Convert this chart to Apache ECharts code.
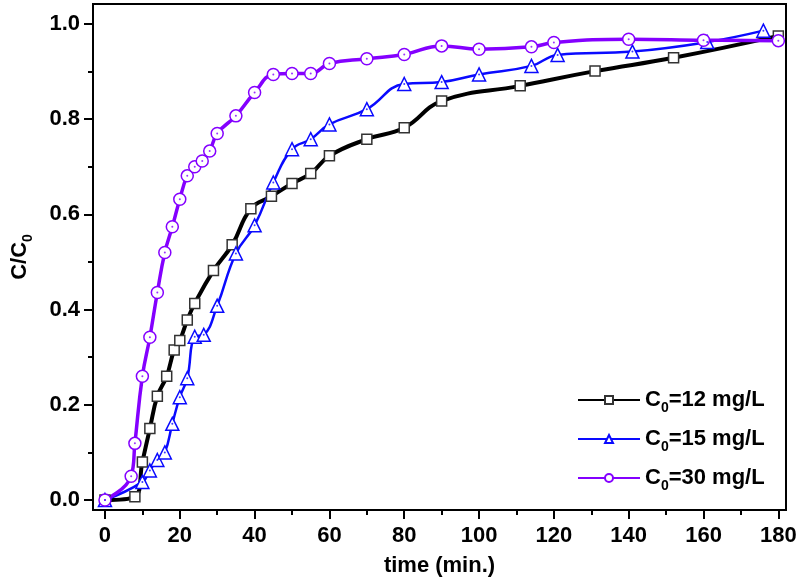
<!DOCTYPE html>
<html>
<head>
<meta charset="utf-8">
<script src="https://cdn.jsdelivr.net/npm/echarts@6/dist/echarts.min.js"></script>
<style>
  html, body { margin: 0; padding: 0; background: #fff; }
  #chart { width: 800px; height: 583px; }
</style>
</head>
<body>
<div id="chart"></div>
<script>
// C0 = 12 mg/L
const time12 = [0, 8, 10, 12, 14, 16.5, 18.5, 20, 22, 24, 29, 34, 39, 44.5, 50, 55, 60, 70, 80, 90, 111, 131, 152, 180]
const ratio12 = [0, 0.007, 0.08, 0.15, 0.218, 0.26, 0.315, 0.335, 0.378, 0.413, 0.482, 0.536, 0.612, 0.638, 0.665, 0.686, 0.723, 0.758, 0.782, 0.838, 0.870, 0.901, 0.929, 0.975]
// C0 = 15 mg/L
const time15 = [0, 10, 12, 14, 16, 18, 20, 22, 24, 26.4, 30, 35, 40, 45, 50, 55, 60, 70, 80, 90, 100, 114, 121, 141, 161, 176]
const ratio15 = [0, 0.038, 0.062, 0.084, 0.10, 0.16, 0.216, 0.256, 0.343, 0.347, 0.408, 0.518, 0.577, 0.667, 0.737, 0.758, 0.789, 0.821, 0.874, 0.878, 0.894, 0.912, 0.935, 0.942, 0.962, 0.986]
// C0 = 30 mg/L
const time30 = [0, 7, 8, 10, 12, 14, 16, 18, 20, 22, 24, 26, 28, 30, 35, 40, 45, 50, 55, 60, 70, 80, 90, 100, 114, 120, 140, 160, 180]
const ratio30 = [0, 0.05, 0.119, 0.26, 0.342, 0.436, 0.52, 0.574, 0.632, 0.681, 0.70, 0.712, 0.733, 0.77, 0.807, 0.856, 0.894, 0.896, 0.896, 0.917, 0.927, 0.936, 0.954, 0.947, 0.952, 0.961, 0.968, 0.966, 0.965]

const xMajor = [0, 20, 40, 60, 80, 100, 120, 140, 160, 180]
const xMinor = [10, 30, 50, 70, 90, 110, 130, 150, 170]
const yMajor = [0, 0.2, 0.4, 0.6, 0.8, 1.0]
const yMinor = [0.1, 0.3, 0.5, 0.7, 0.9]

const seriesNames = ['C0=12 mg/L', 'C0=15 mg/L', 'C0=30 mg/L']

const font = "'Liberation Sans', Arial, sans-serif"
const pairs = (xs, ys) => xs.map((x, i) => [x, ys[i]])

const chart = echarts.init(document.getElementById('chart'))

const xRange = { min: -3.2, max: 182.05 }
const yRange = { min: -0.021, max: 1.042 }

const labelStyle = {
  fontFamily: font,
  fontWeight: 'bold',
  fontSize: 22,
  color: '#000'
}

const subRich = {
  a: { fontFamily: font, fontWeight: 'bold', fontSize: 22, color: '#000', lineHeight: 30 },
  s: { fontFamily: font, fontWeight: 'bold', fontSize: 14, color: '#000', lineHeight: 10, verticalAlign: 'bottom' }
}

const lineSeries = (name, data, color, width, symbol, size, border) => ({
  name: name,
  type: 'line',
  data: data,
  smooth: 0.45,
  symbol: symbol,
  symbolSize: size,
  showAllSymbol: true,
  lineStyle: { color: color, width: width },
  itemStyle: { color: '#fff', borderColor: border, borderWidth: 1.5 },
  emphasis: { disabled: true },
  animation: false
})

const dotSeries = (name, data, color) => ({
  name: name,
  type: 'scatter',
  data: data,
  symbolSize: 2,
  itemStyle: { color: color },
  silent: true,
  z: 5,
  animation: false
})

const option = {
  backgroundColor: '#fff',
  animation: false,
  grid: {
    left: 93, right: 14, top: 4, bottom: 73,
    show: true, borderColor: '#000', borderWidth: 2
  },
  legend: {
    orient: 'vertical',
    left: 572,
    top: 384,
    itemWidth: 62,
    itemHeight: 10,
    itemGap: 13,
    data: seriesNames,
    formatter: name => '{a|C}{s|0}{a|' + name.slice(2) + '}',
    textStyle: {
      padding: [0, 0, 0, 0],
      rich: {
        a: { fontFamily: font, fontWeight: 'bold', fontSize: 22, color: '#000', lineHeight: 30 },
        s: { fontFamily: font, fontWeight: 'bold', fontSize: 14, color: '#000', lineHeight: 10, verticalAlign: 'bottom' }
      }
    }
  },
  xAxis: [
    {
      type: 'value', min: xRange.min, max: xRange.max,
      axisLine: { show: true, onZero: false, lineStyle: { color: '#000', width: 2 } },
      axisTick: { show: true, customValues: xMajor, length: 9, lineStyle: { color: '#000', width: 2 } },
      axisLabel: Object.assign({ customValues: xMajor, margin: 15 }, labelStyle),
      splitLine: { show: false },
      name: 'time (min.)',
      nameLocation: 'middle',
      nameGap: 45,
      nameTextStyle: labelStyle
    },
    {
      type: 'value', min: xRange.min, max: xRange.max, position: 'bottom',
      axisLine: { show: false, onZero: false },
      axisTick: { show: true, customValues: xMinor, length: 5, lineStyle: { color: '#000', width: 2 } },
      axisLabel: { show: false },
      splitLine: { show: false }
    }
  ],
  yAxis: [
    {
      type: 'value', min: yRange.min, max: yRange.max,
      axisLine: { show: true, onZero: false, lineStyle: { color: '#000', width: 2 } },
      axisTick: { show: true, customValues: yMajor, length: 9, lineStyle: { color: '#000', width: 2 } },
      axisLabel: Object.assign({ customValues: yMajor, margin: 13, formatter: v => v.toFixed(1) }, labelStyle),
      splitLine: { show: false },
      name: '{a|C/C}{s|0}',
      nameLocation: 'middle',
      nameGap: 58,
      nameTextStyle: { rich: subRich }
    },
    {
      type: 'value', min: yRange.min, max: yRange.max, position: 'left',
      axisLine: { show: false, onZero: false },
      axisTick: { show: true, customValues: yMinor, length: 5, lineStyle: { color: '#000', width: 2 } },
      axisLabel: { show: false },
      splitLine: { show: false }
    }
  ],
  series: [
    lineSeries(seriesNames[0], pairs(time12, ratio12), '#000000', 4, 'rect', 10, '#333'),
    lineSeries(seriesNames[1], pairs(time15, ratio15), '#0a0aff', 2.5, 'triangle', 13, '#0a0aff'),
    dotSeries('dot15', pairs(time15, ratio15), '#0a0aff'),
    lineSeries(seriesNames[2], pairs(time30, ratio30), '#8400ff', 3.5, 'circle', 12, '#8400ff'),
    dotSeries('dot30', pairs(time30, ratio30), '#8400ff')
  ]
}

chart.setOption(option)
</script>
</body>
</html>
